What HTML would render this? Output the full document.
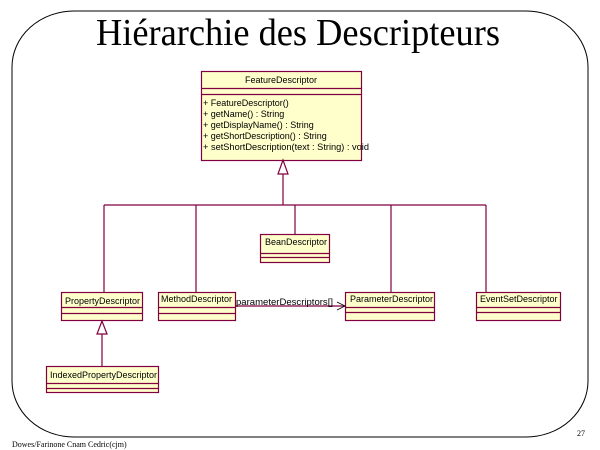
<!DOCTYPE html>
<html><head><meta charset="utf-8"><style>
html,body{margin:0;padding:0;background:#fff;width:600px;height:450px;overflow:hidden}
</style></head><body>
<svg width="600" height="450" xmlns="http://www.w3.org/2000/svg" font-family="Liberation Sans, sans-serif">
<rect x="12" y="11" width="576" height="426" rx="62" ry="56" fill="none" stroke="#000" stroke-width="1"/>
<text x="298" y="45" text-anchor="middle" font-family="Liberation Serif, serif" font-size="38" textLength="404" lengthAdjust="spacingAndGlyphs">Hiérarchie des Descripteurs</text>
<g stroke="#800040" stroke-width="1.2" fill="#ffffcc">
<!-- FeatureDescriptor -->
<rect x="201.5" y="71.5" width="160" height="89"/>
<line x1="201.5" y1="88.5" x2="361.5" y2="88.5"/>
<line x1="201.5" y1="94.5" x2="361.5" y2="94.5"/>
<!-- Property -->
<rect x="61.5" y="292.5" width="81" height="28"/>
<line x1="61.5" y1="307.5" x2="142.5" y2="307.5"/><line x1="61.5" y1="313.5" x2="142.5" y2="313.5"/>
<!-- Method -->
<rect x="158.5" y="292.5" width="77" height="28"/>
<line x1="158.5" y1="307.5" x2="235.5" y2="307.5"/><line x1="158.5" y1="313.5" x2="235.5" y2="313.5"/>
<!-- Parameter -->
<rect x="345.5" y="292.5" width="89" height="28"/>
<line x1="345.5" y1="307.5" x2="434.5" y2="307.5"/><line x1="345.5" y1="312.5" x2="434.5" y2="312.5"/>
<!-- EventSet -->
<rect x="476.5" y="292.5" width="84" height="28"/>
<line x1="476.5" y1="307.5" x2="560.5" y2="307.5"/><line x1="476.5" y1="312.5" x2="560.5" y2="312.5"/>
<!-- Bean -->
<rect x="260.5" y="234.5" width="69" height="28"/>
<line x1="260.5" y1="253.5" x2="329.5" y2="253.5"/><line x1="260.5" y1="257.5" x2="329.5" y2="257.5"/>
<!-- Indexed -->
<rect x="46.5" y="366.5" width="112" height="26"/>
<line x1="46.5" y1="383.5" x2="158.5" y2="383.5"/><line x1="46.5" y1="388.5" x2="158.5" y2="388.5"/>
</g>
<g stroke="#800040" stroke-width="1.2" fill="none">
<polygon points="283,160 278,174 288,174" fill="#fff"/>
<line x1="283" y1="174" x2="283" y2="205"/>
<line x1="104" y1="205" x2="486" y2="205"/>
<line x1="104" y1="205" x2="104" y2="292"/>
<line x1="196" y1="205" x2="196" y2="292"/>
<line x1="295" y1="205" x2="295" y2="234"/>
<line x1="391" y1="205" x2="391" y2="292"/>
<line x1="486" y1="205" x2="486" y2="292"/>
<polygon points="102,321 97,334 107,334" fill="#fff"/>
<line x1="102" y1="334" x2="102" y2="366"/>
<line x1="235" y1="306" x2="345" y2="306"/>
<polyline points="337,302 345,306 337,310" stroke="#000" stroke-width="0.8"/>
</g>
<g font-size="9" fill="#000">
<text x="281" y="83" text-anchor="middle">FeatureDescriptor</text>
<text x="203" y="106">+ FeatureDescriptor()</text>
<text x="203" y="117">+ getName() : String</text>
<text x="203" y="128">+ getDisplayName() : String</text>
<text x="203" y="139">+ getShortDescription() : String</text>
<text x="203" y="150" textLength="166" lengthAdjust="spacingAndGlyphs">+ setShortDescription(text : String) : void</text>
<text x="65" y="304">PropertyDescriptor</text>
<text x="161" y="302">MethodDescriptor</text>
<text x="236" y="305" textLength="97" lengthAdjust="spacingAndGlyphs">parameterDescriptors[]</text>
<text x="350" y="302">ParameterDescriptor</text>
<text x="480" y="302">EventSetDescriptor</text>
<text x="265" y="245">BeanDescriptor</text>
<text x="50" y="378">IndexedPropertyDescriptor</text>
</g>
<text x="12" y="447" font-family="Liberation Serif, serif" font-size="8">Dowes/Farinone Cnam Cedric(cjm)</text>
<text x="577" y="436" font-family="Liberation Serif, serif" font-size="8">27</text>
</svg>
</body></html>
